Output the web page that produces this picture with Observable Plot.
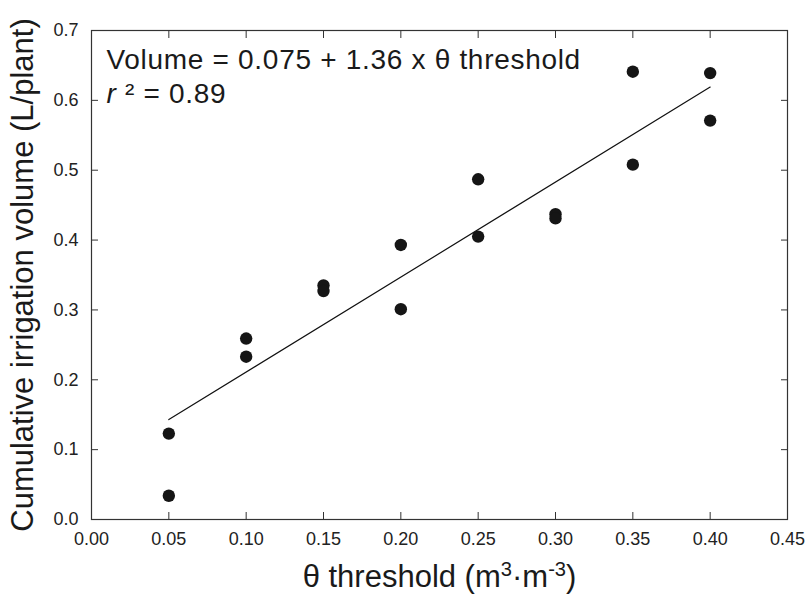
<!DOCTYPE html>
<html>
<head>
<meta charset="utf-8">
<script src="https://cdn.jsdelivr.net/npm/d3@7"></script>
<script src="https://cdn.jsdelivr.net/npm/@observablehq/plot@0.6"></script>
<style>
  body { margin: 0; background: #fff; }
  svg { font-family: "Liberation Sans", Arial, sans-serif; }
</style>
</head>
<body>
<div id="chart"></div>
<script>
// Data
const thresholds = [0.05, 0.05, 0.10, 0.10, 0.15, 0.15, 0.20, 0.20, 0.25, 0.25, 0.30, 0.30, 0.35, 0.35, 0.40, 0.40];
const volumes    = [0.123, 0.034, 0.259, 0.233, 0.335, 0.327, 0.393, 0.301, 0.487, 0.405, 0.437, 0.431, 0.641, 0.508, 0.639, 0.571];
// Regression line end points (Volume = 0.075 + 1.36 x θ)
const fitX = [0.05, 0.40];
const fitY = [0.143, 0.619];
const xTicks = [0, 0.05, 0.10, 0.15, 0.20, 0.25, 0.30, 0.35, 0.40, 0.45];
const yTicks = [0, 0.1, 0.2, 0.3, 0.4, 0.5, 0.6, 0.7];
const xLabel = "θ threshold (m3·m-3)";
const yLabel = "Cumulative irrigation volume (L/plant)";
const eqText = "Volume = 0.075 + 1.36 x θ threshold";
const r2Text = "r ² = 0.89";

const points = thresholds.map((t, i) => ({x: t, y: volumes[i]}));
const fit = fitX.map((t, i) => ({x: t, y: fitY[i]}));
const axisColor = "#333";

const chart = Plot.plot({
  width: 805,
  height: 600,
  marginLeft: 91,
  marginRight: 18,
  marginTop: 30,
  marginBottom: 81,
  style: {fontFamily: "Liberation Sans, Arial, sans-serif", background: "#fff"},
  x: {domain: [0, 0.45]},
  y: {domain: [0, 0.7]},
  marks: [
    Plot.frame({stroke: axisColor, strokeWidth: 1.2}),
    Plot.axisX({anchor: "bottom", ticks: xTicks, tickFormat: d3.format(".2f"), tickSize: -7, tickPadding: 20, fontSize: 18, fill: "#222", stroke: axisColor, label: null}),
    Plot.axisX({anchor: "top", ticks: xTicks, tickFormat: () => "", tickSize: -7, stroke: axisColor, label: null}),
    Plot.axisY({anchor: "left", ticks: yTicks, tickFormat: d3.format(".1f"), tickSize: -7, tickPadding: 20, fontSize: 18, fill: "#222", stroke: axisColor, label: null}),
    Plot.axisY({anchor: "right", ticks: yTicks, tickFormat: () => "", tickSize: -7, stroke: axisColor, label: null}),
    Plot.line(fit, {x: "x", y: "y", stroke: "#111", strokeWidth: 1.2}),
    Plot.dot(points, {x: "x", y: "y", r: 6.2, fill: "#151515", stroke: "none"}),
    Plot.text([eqText], {frameAnchor: "top-left", dx: 15, dy: 38, lineAnchor: "bottom", textAnchor: "start", fontSize: 28, fill: "#1a1a1a"}),
    Plot.text([r2Text], {frameAnchor: "top-left", dx: 15, dy: 72, lineAnchor: "bottom", textAnchor: "start", fontSize: 28, fill: "#1a1a1a"}),
    Plot.text([yLabel], {frameAnchor: "left", dx: -68, rotate: -90, lineAnchor: "middle", textAnchor: "middle", fontSize: 31, fill: "#1a1a1a"}),
    Plot.text([xLabel], {frameAnchor: "bottom", dy: 58, lineAnchor: "middle", textAnchor: "middle", fontSize: 31, fill: "#1a1a1a"})
  ]
});

document.getElementById("chart").appendChild(chart);

// Rich text: superscripts, italics, spacing
d3.select(chart).selectAll("text").each(function() {
  const t = d3.select(this);
  const s = this.textContent;
  if (s === xLabel) {
    t.text(null);
    t.append("tspan").text("θ threshold (m");
    t.append("tspan").attr("baseline-shift", "super").attr("font-size", "65%").text("3");
    t.append("tspan").text("·m");
    t.append("tspan").attr("baseline-shift", "super").attr("font-size", "65%").text("-3");
    t.append("tspan").text(")");
  } else if (s === r2Text) {
    t.text(null);
    t.attr("letter-spacing", "0.7px");
    t.append("tspan").attr("font-style", "italic").text("r");
    t.append("tspan").text(" ² = 0.89");
  } else if (s === eqText) {
    t.attr("letter-spacing", "0.7px");
  }
});
</script>
</body>
</html>
